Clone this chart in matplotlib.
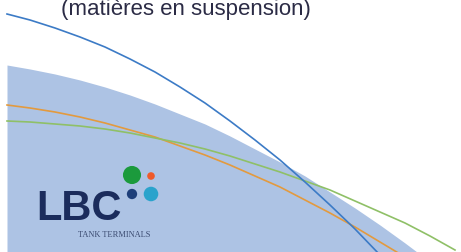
import matplotlib
matplotlib.use("Agg")
import matplotlib.pyplot as plt

# positions along the slide crop (pixel-like units)
xs = [7, 30, 55, 80, 105, 130, 155, 180, 205, 230, 255, 280, 305, 330, 355, 380, 405, 430, 455]

# shaded zone (upper edge)
zone_x = xs[:17] + [417, 461]
zone_y = [65, 69, 74, 80, 87, 95, 104, 114, 124, 136, 149, 162, 176, 192, 208, 225, 243, 252, 252]

# curves
blue_x = xs[:16]
blue_y = [14, 20, 28, 37, 47, 59, 72, 87, 103, 121, 140, 160, 182, 205, 229, 255]

orange_x = xs[:17]
orange_y = [105, 108, 112, 117, 123, 130, 137, 146, 155, 165, 176, 187, 200, 213, 227, 242, 257]

green_x = xs
green_y = [121, 122, 124, 126, 129, 133, 138, 143, 149, 156, 164, 172, 181, 190, 201, 212, 223, 236, 250]

title = "(matières en suspension)"
logo = "LBC"
logo_sub = "TANK TERMINALS"

fig = plt.figure(figsize=(4.61, 2.52), dpi=100)
ax = fig.add_axes([0, 0, 1, 1])
ax.set_xlim(0, 461)
ax.set_ylim(252, 0)
ax.axis("off")

ax.fill_between(zone_x, zone_y, 252, color="#adc3e4", lw=0, zorder=1)

ax.plot(orange_x, orange_y, color="#e39a3e", lw=1.2, zorder=3)
ax.plot(green_x, green_y, color="#8fc067", lw=1.2, zorder=3)
ax.plot(blue_x, blue_y, color="#3c7bc6", lw=1.2, zorder=4)

ax.text(186, 15, title, ha="center", va="baseline", fontsize=16,
        family=["Liberation Sans", "DejaVu Sans"], color="#2b2b45", zorder=5)

# logo
ax.text(36, 220, logo, ha="left", va="baseline", fontsize=30, fontweight="bold",
        family=["Liberation Sans", "DejaVu Sans"], color="#1b2c5c", zorder=5)
ax.text(114, 235, logo_sub, ha="center", va="center", fontsize=6,
        family=["Liberation Serif", "DejaVu Serif"], color="#3a4a70", zorder=5)
ax.scatter([132, 151, 132, 151], [175, 176, 194, 194], s=[170, 30, 55, 110],
           c=["#1b9a3c", "#ef5a2a", "#1e3f7a", "#2aa3cc"], lw=0, zorder=5)

fig.savefig("out.png", dpi=100)
